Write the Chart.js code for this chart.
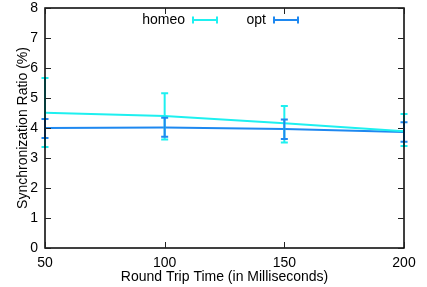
<!DOCTYPE html>
<html>
<head>
<meta charset="utf-8">
<script src="https://cdn.jsdelivr.net/npm/chart.js@4.4.0/dist/chart.umd.min.js"></script>
<style>
  body { margin: 0; background: #fff; }
  #wrap { width: 427px; height: 287px; }
</style>
</head>
<body>
<div id="wrap"><canvas id="chart"></canvas></div>
<script>
const rtt = [50, 100, 150, 200];
const xTicks = [50, 100, 150, 200];
const yTicks = [0, 1, 2, 3, 4, 5, 6, 7, 8];

const homeo = [4.51, 4.40, 4.16, 3.89];
const homeoLow = [3.37, 3.62, 3.52, 3.40];
const homeoHigh = [5.67, 5.16, 4.73, 4.47];

const opt = [4.00, 4.02, 3.97, 3.87];
const optLow = [3.67, 3.71, 3.63, 3.54];
const optHigh = [4.30, 4.34, 4.28, 4.19];

const seriesNames = ['homeo', 'opt'];
const colors = ['#1ef0f0', '#1e88f0'];

function pts(vals) {
    return rtt.map((x, i) => ({ x: x, y: vals[i] }));
}

// gnuplot-like frame, inward ticks, error bars and key
const gnuplotLook = {
    id: 'gnuplotLook',
    afterDatasetsDraw(chart) {
        const ctx = chart.ctx;
        const xs = chart.scales.x;
        const ys = chart.scales.y;
        const a = chart.chartArea;
        const bounds = [[homeoLow, homeoHigh], [optLow, optHigh]];

        ctx.save();
        // error bars
        bounds.forEach((b, d) => {
            ctx.strokeStyle = colors[d];
            ctx.lineWidth = 2;
            rtt.forEach((x, i) => {
                const px = xs.getPixelForValue(x);
                const lo = ys.getPixelForValue(b[0][i]);
                const hi = ys.getPixelForValue(b[1][i]);
                ctx.beginPath();
                ctx.moveTo(px, lo); ctx.lineTo(px, hi);
                ctx.moveTo(px - 3.5, lo); ctx.lineTo(px + 3.5, lo);
                ctx.moveTo(px - 3.5, hi); ctx.lineTo(px + 3.5, hi);
                ctx.stroke();
            });
        });

        // frame
        ctx.strokeStyle = '#000';
        ctx.lineWidth = 1.5;
        ctx.strokeRect(a.left, a.top, a.right - a.left, a.bottom - a.top);

        // inward ticks, mirrored
        ctx.lineWidth = 1;
        ctx.strokeStyle = '#222';
        ctx.beginPath();
        xTicks.forEach(v => {
            const px = Math.round(xs.getPixelForValue(v)) + 0.5;
            ctx.moveTo(px, a.bottom); ctx.lineTo(px, a.bottom - 6);
            ctx.moveTo(px, a.top); ctx.lineTo(px, a.top + 6);
        });
        yTicks.forEach(v => {
            const py = Math.round(ys.getPixelForValue(v)) + 0.5;
            ctx.moveTo(a.left, py); ctx.lineTo(a.left + 6, py);
            ctx.moveTo(a.right, py); ctx.lineTo(a.right - 6, py);
        });
        ctx.stroke();

        // key
        ctx.font = '14px "Liberation Sans", Arial, sans-serif';
        ctx.textAlign = 'right';
        ctx.textBaseline = 'middle';
        const keyY = 20;
        const keyX = [185, 266];
        seriesNames.forEach((name, d) => {
            ctx.fillStyle = '#000';
            ctx.fillText(name, keyX[d], keyY);
            const x0 = keyX[d] + 8, x1 = keyX[d] + 32;
            ctx.strokeStyle = colors[d];
            ctx.lineWidth = 2;
            ctx.beginPath();
            ctx.moveTo(x0, keyY); ctx.lineTo(x1, keyY);
            ctx.moveTo(x0, keyY - 3.5); ctx.lineTo(x0, keyY + 3.5);
            ctx.moveTo(x1, keyY - 3.5); ctx.lineTo(x1, keyY + 3.5);
            ctx.stroke();
        });
        ctx.restore();
    }
};

const tickFont = { family: '"Liberation Sans", Arial, sans-serif', size: 14 };

new Chart(document.getElementById('chart'), {
    type: 'line',
    data: {
        datasets: [
            { label: seriesNames[0], data: pts(homeo), borderColor: colors[0], borderWidth: 2, pointRadius: 0, tension: 0 },
            { label: seriesNames[1], data: pts(opt), borderColor: colors[1], borderWidth: 2, pointRadius: 0, tension: 0 }
        ]
    },
    options: {
        responsive: true,
        maintainAspectRatio: false,
        animation: false,
        layout: { padding: { top: 8, right: 23, left: 0, bottom: 0 } },
        plugins: { legend: { display: false }, tooltip: { enabled: false } },
        scales: {
            x: {
                type: 'linear',
                min: 50,
                max: 200,
                afterBuildTicks: s => { s.ticks = xTicks.map(v => ({ value: v })); },
                afterFit: s => { s.height = 39; },
                grid: { display: false, drawTicks: false },
                border: { display: false },
                ticks: { color: '#000', font: tickFont, padding: 7, maxRotation: 0 },
                title: { display: true, text: 'Round Trip Time (in Milliseconds)', color: '#000', font: tickFont, padding: { top: 0, bottom: 1 } }
            },
            y: {
                min: 0,
                max: 8,
                afterBuildTicks: s => { s.ticks = yTicks.map(v => ({ value: v })); },
                afterFit: s => { s.width = 45; s.paddingTop = 0; s.paddingBottom = 0; },
                grid: { display: false, drawTicks: false },
                border: { display: false },
                ticks: { color: '#000', font: tickFont, padding: 7 },
                title: { display: true, text: 'Synchronization Ratio (%)', color: '#000', font: tickFont, padding: { top: 15, bottom: 0 } }
            }
        }
    },
    plugins: [gnuplotLook]
});
</script>
</body>
</html>
